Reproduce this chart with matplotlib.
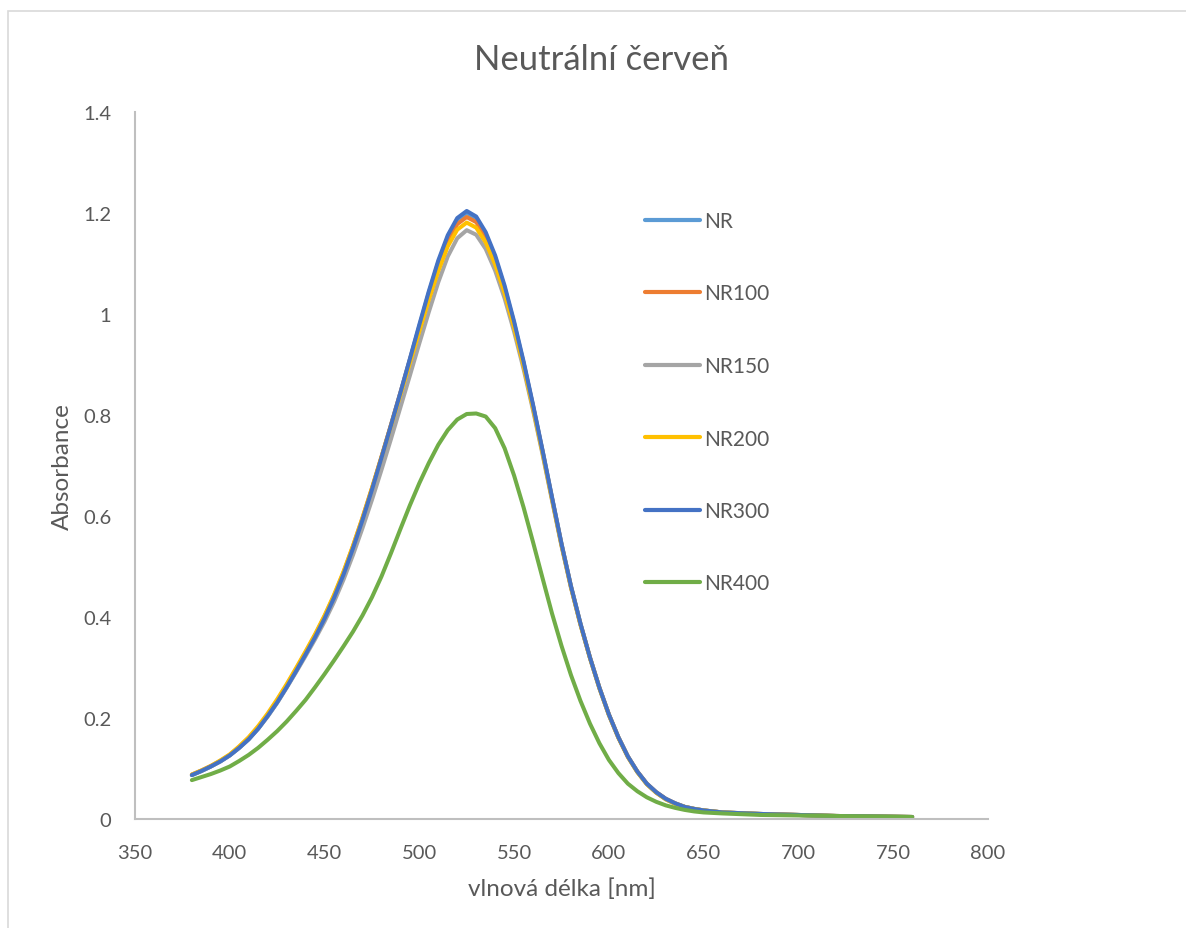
import matplotlib
matplotlib.use("Agg")
import matplotlib.pyplot as plt
from matplotlib.patches import Rectangle

plt.rcParams['font.family'] = ['Lato', 'DejaVu Sans']

# wavelength grid [nm]
wavelength = [380, 385, 390, 395, 400, 405, 410, 415, 420, 425,
              430, 435, 440, 445, 450, 455, 460, 465, 470, 475,
              480, 485, 490, 495, 500, 505, 510, 515, 520, 525,
              530, 535, 540, 545, 550, 555, 560, 565, 570, 575,
              580, 585, 590, 595, 600, 605, 610, 615, 620, 625,
              630, 635, 640, 645, 650, 660, 680, 700, 720, 740, 760]

nr = [0.087, 0.095, 0.104, 0.114, 0.126, 0.141, 0.158, 0.179, 0.204, 0.231,
      0.261, 0.293, 0.326, 0.360, 0.397, 0.438, 0.484, 0.536, 0.592, 0.652,
      0.715, 0.779, 0.844, 0.910, 0.976, 1.042, 1.102, 1.152, 1.186, 1.200,
      1.189, 1.158, 1.112, 1.052, 0.982, 0.903, 0.818, 0.729, 0.636, 0.545,
      0.461, 0.387, 0.320, 0.260, 0.207, 0.162, 0.124, 0.094, 0.070, 0.053,
      0.040, 0.031, 0.024, 0.020, 0.017, 0.013, 0.010, 0.008, 0.006, 0.005, 0.004]

nr100 = [0.088, 0.096, 0.105, 0.115, 0.127, 0.143, 0.161, 0.182, 0.207, 0.235,
         0.265, 0.297, 0.330, 0.364, 0.401, 0.442, 0.488, 0.540, 0.596, 0.655,
         0.717, 0.780, 0.844, 0.909, 0.974, 1.037, 1.096, 1.145, 1.178, 1.192,
         1.182, 1.152, 1.107, 1.049, 0.979, 0.902, 0.817, 0.728, 0.635, 0.544,
         0.460, 0.386, 0.320, 0.260, 0.207, 0.162, 0.124, 0.094, 0.070, 0.053,
         0.040, 0.031, 0.024, 0.020, 0.017, 0.013, 0.010, 0.008, 0.006, 0.005, 0.004]

nr150 = [0.087, 0.095, 0.104, 0.114, 0.126, 0.141, 0.158, 0.179, 0.203, 0.230,
         0.260, 0.291, 0.323, 0.356, 0.391, 0.430, 0.474, 0.523, 0.576, 0.632,
         0.691, 0.752, 0.815, 0.878, 0.942, 1.004, 1.063, 1.114, 1.150, 1.166,
         1.157, 1.129, 1.086, 1.031, 0.965, 0.891, 0.809, 0.722, 0.631, 0.541,
         0.458, 0.385, 0.319, 0.259, 0.206, 0.161, 0.123, 0.093, 0.069, 0.052,
         0.039, 0.030, 0.024, 0.020, 0.017, 0.013, 0.010, 0.008, 0.006, 0.005, 0.004]

nr200 = [0.088, 0.096, 0.105, 0.116, 0.128, 0.144, 0.162, 0.184, 0.209, 0.237,
         0.267, 0.299, 0.332, 0.366, 0.403, 0.444, 0.490, 0.541, 0.596, 0.655,
         0.716, 0.778, 0.840, 0.903, 0.966, 1.028, 1.085, 1.134, 1.167, 1.181,
         1.171, 1.142, 1.098, 1.041, 0.973, 0.897, 0.813, 0.725, 0.633, 0.542,
         0.459, 0.385, 0.319, 0.259, 0.206, 0.161, 0.123, 0.093, 0.069, 0.052,
         0.039, 0.030, 0.024, 0.020, 0.017, 0.013, 0.010, 0.008, 0.006, 0.005, 0.004]

nr300 = [0.087, 0.095, 0.104, 0.114, 0.126, 0.141, 0.158, 0.179, 0.204, 0.231,
         0.261, 0.293, 0.326, 0.360, 0.397, 0.438, 0.484, 0.536, 0.592, 0.652,
         0.715, 0.779, 0.844, 0.911, 0.979, 1.045, 1.106, 1.156, 1.190, 1.204,
         1.193, 1.162, 1.116, 1.056, 0.985, 0.906, 0.820, 0.730, 0.637, 0.545,
         0.461, 0.387, 0.320, 0.260, 0.207, 0.162, 0.124, 0.094, 0.070, 0.053,
         0.040, 0.031, 0.024, 0.020, 0.017, 0.013, 0.010, 0.008, 0.006, 0.005, 0.004]

nr400 = [0.077, 0.083, 0.089, 0.096, 0.104, 0.115, 0.127, 0.141, 0.157, 0.174,
         0.193, 0.214, 0.236, 0.261, 0.287, 0.314, 0.342, 0.371, 0.403, 0.439,
         0.480, 0.526, 0.574, 0.621, 0.665, 0.705, 0.741, 0.770, 0.791, 0.802,
         0.803, 0.797, 0.774, 0.734, 0.680, 0.617, 0.548, 0.477, 0.407, 0.343,
         0.285, 0.234, 0.189, 0.150, 0.117, 0.091, 0.070, 0.055, 0.043, 0.034,
         0.027, 0.022, 0.018, 0.015, 0.013, 0.011, 0.008, 0.007, 0.006, 0.005, 0.004]

series_names = ["NR", "NR100", "NR150", "NR200", "NR300", "NR400"]
series_values = [nr, nr100, nr150, nr200, nr300, nr400]
series_colors = ["#5B9BD5", "#ED7D31", "#A5A5A5", "#FFC000", "#4472C4", "#70AD47"]

x_ticks = [350, 400, 450, 500, 550, 600, 650, 700, 750, 800]
y_ticks = [0, 0.2, 0.4, 0.6, 0.8, 1, 1.2, 1.4]
y_tick_labels = ["0", "0.2", "0.4", "0.6", "0.8", "1", "1.2", "1.4"]

W, H = 1186, 929
fig = plt.figure(figsize=(W / 100, H / 100), dpi=100)
fig.patch.set_facecolor("white")

# chart area frame (only top and left edges lie inside the image)
fig.add_artist(Rectangle((8 / W, -0.1), 1.2, 1 - 12 / H + 0.1,
                         transform=fig.transFigure, fill=False,
                         edgecolor="#D9D9D9", linewidth=1.2))

ax = fig.add_axes([135 / W, 1 - 820 / H, (988 - 135) / W, (820 - 113) / H])

text_color = "#595959"
for name, vals, col in zip(series_names, series_values, series_colors):
    ax.plot(wavelength, vals, color=col, linewidth=2.9, label=name,
            solid_capstyle="round", solid_joinstyle="round")

ax.set_xlim(350, 800)
ax.set_ylim(0, 1.4)
ax.set_xticks(x_ticks)
ax.set_yticks(y_ticks)
ax.set_yticklabels(y_tick_labels)
ax.tick_params(length=0, labelsize=14.5, colors=text_color)
ax.tick_params(axis="x", pad=18)
ax.tick_params(axis="y", pad=17)

for side in ("top", "right"):
    ax.spines[side].set_visible(False)
for side in ("left", "bottom"):
    ax.spines[side].set_color("#BFBFBF")
    ax.spines[side].set_linewidth(1.5)

ax.set_xlabel("vlnová délka [nm]", fontsize=17.5, color=text_color, labelpad=12)
ax.set_ylabel("Absorbance", fontsize=17.5, color=text_color, labelpad=7)
fig.text(602 / W, 1 - 60 / H, "Neutrální červeň", ha="center", va="center",
         fontsize=25, color=text_color)

leg = ax.legend(loc="upper left",
                bbox_to_anchor=((645 - 135) / (988 - 135), 1 - (212 - 113) / (820 - 113)),
                frameon=False, fontsize=15, handlelength=2.64, handletextpad=0.2,
                labelspacing=2.52, borderpad=0, borderaxespad=0,
                labelcolor=text_color)
for line in leg.get_lines():
    line.set_linewidth(3)

fig.savefig("out.png", dpi=100, facecolor="white")
